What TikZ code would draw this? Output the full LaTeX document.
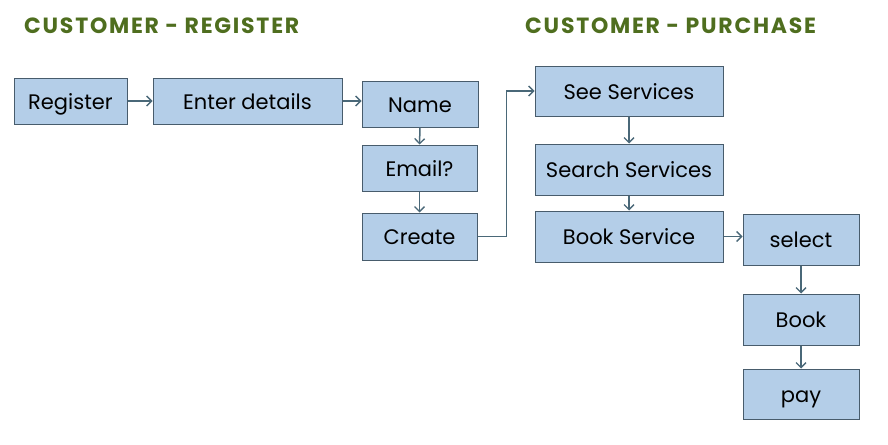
\documentclass[tikz,border=0pt]{standalone}
\usepackage{fontspec}
\setmainfont{Poppins}
\newfontfamily\titlefont[LetterSpace=8]{Poppins}
\usetikzlibrary{arrows.meta}
\definecolor{boxfill}{RGB}{180,206,232}
\definecolor{boxline}{RGB}{72,92,108}
\definecolor{arrowc}{RGB}{74,104,120}
\definecolor{titlec}{RGB}{79,110,31}
\tikzset{
  box/.style={draw=boxline, fill=boxfill, line width=1pt, inner sep=0pt,
    font=\fontsize{21}{24}\selectfont, text=black, text height=16.5pt, text depth=0pt},
  conn/.style={draw=arrowc, line width=1.5pt, -{Straight Barb[length=5pt,width=10pt,line width=1.3pt]}},
  ttl/.style={anchor=base west, inner sep=0pt, text=titlec, font=\titlefont\bfseries\fontsize{22}{26}\selectfont}
}
\begin{document}
\begin{tikzpicture}[x=1pt,y=-1pt]
\useasboundingbox (0,0) rectangle (888,444);
\node[ttl] (t1) at (24,34) {CUSTOMER - REGISTER};
\node[ttl] (t2) at (525,34) {CUSTOMER - PURCHASE};
\node[box, minimum width=113pt, minimum height=46pt] (reg) at (70.5,101) {Register};
\node[box, minimum width=189pt, minimum height=46pt] (ent) at (247.5,101) {Enter details};
\node[box, minimum width=116pt, minimum height=46pt] (name) at (420,104) {Name};
\node[box, minimum width=115pt, minimum height=46pt] (email) at (419.5,168) {Email?};
\node[box, minimum width=115pt, minimum height=47pt] (create) at (419.5,236.5) {Create};
\node[box, minimum width=188pt, minimum height=50pt] (see) at (629,91) {See Services};
\node[box, minimum width=188pt, minimum height=51pt] (search) at (629,169.5) {Search Services};
\node[box, minimum width=188pt, minimum height=51pt] (bookS) at (629,236.5) {Book Service};
\node[box, minimum width=116pt, minimum height=51pt] (select) at (801,239.5) {select};
\node[box, minimum width=116pt, minimum height=51pt] (book) at (801,319.5) {Book};
\node[box, minimum width=116pt, minimum height=50pt] (pay) at (801,394) {pay};
\draw[conn] (reg.east) -- (ent.west);
\draw[conn] (ent.east) -- (ent.east -| name.west);
\draw[conn] (name.south) -- (email.north);
\draw[conn] (email.south) -- (create.north);
\draw[conn] (create.east) -- ++(29,0) |- (see.west);
\draw[conn] (see.south) -- (search.north);
\draw[conn] (search.south) -- (bookS.north);
\draw[conn] (bookS.east) -- (bookS.east -| select.west);
\draw[conn] (select.south) -- (book.north);
\draw[conn] (book.south) -- (pay.north);
\end{tikzpicture}
\end{document}
